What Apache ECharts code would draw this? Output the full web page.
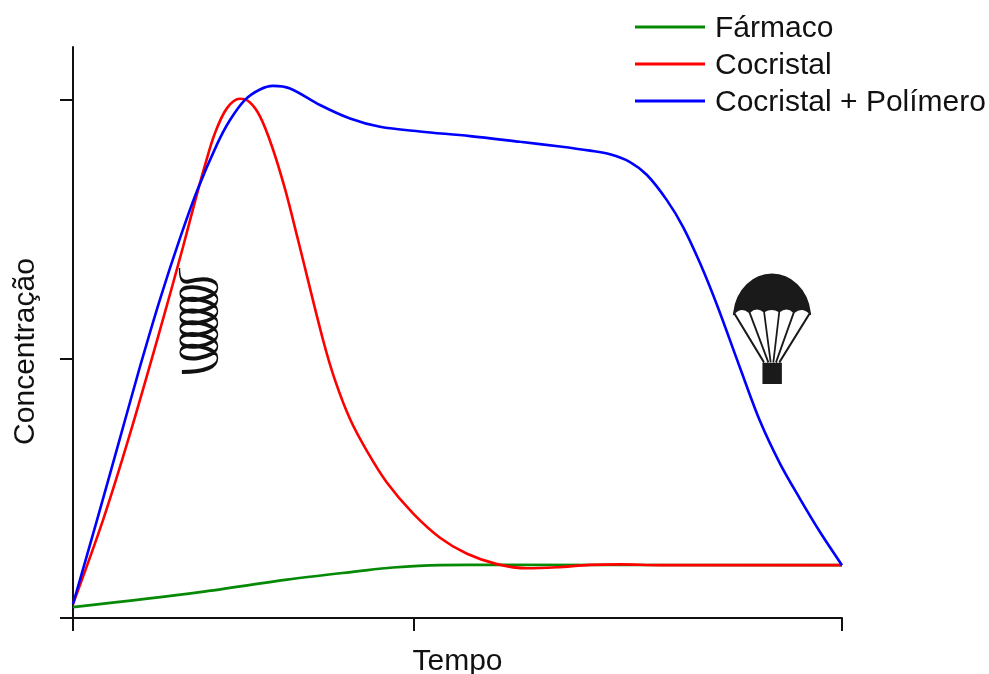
<!DOCTYPE html>
<html>
<head>
<meta charset="utf-8">
<style>html,body{margin:0;padding:0;background:#fff}#c{width:989px;height:674px}</style>
<script src="https://cdn.jsdelivr.net/npm/echarts@6/dist/echarts.min.js"></script>
</head>
<body>
<div id="c"></div>
<script>
const seriesNames = ['Fármaco', 'Cocristal', 'Cocristal + Polímero'];
const xTicks = [0, 341, 769];
const yTicks = [0, 50, 100];
// [tempo, concentração]
const farmaco = [[0,2.1],[127,5.0],[214,7.4],[284,9.0],[320,9.75],[367,10.2],[424,10.25],[769,10.2]];
const cocristal = [[0,2.7],[30,18.9],[56,34.9],[87,55.6],[110,71.6],[122,80.4],[132,87.4],[142,93.6],[154,98.4],[167,100.2],[177,99.5],[187,96.8],[199,91],[212,82.8],[225,73],[250,53.7],[262,45.9],[277,38.4],[294,32.2],[314,26.1],[340,20.2],[367,15.5],[394,12.4],[424,10.4],[454,9.6],[484,9.8],[517,10.25],[547,10.35],[587,10.2],[769,10.2]];
const polimero = [[0,2.7],[24,18.9],[47,34.7],[67,48.5],[87,61.5],[107,73.3],[124,82.4],[144,91.4],[157,96.1],[172,100],[187,102],[200,102.7],[217,102.2],[247,99],[277,96.4],[307,94.8],[347,93.9],[397,93],[447,91.9],[487,91],[517,90.2],[537,89.5],[557,88],[574,85.5],[594,80.6],[610,75.5],[627,68.5],[644,60.4],[667,48.3],[687,38],[707,29.8],[727,23],[747,16.6],[769,10.2]];
const molaPos = [[125.5, 57.5]];
const paraquedasPos = [[699, 55.8]];
const molaPath = 'path://M58 56C58 85 62 97 82 97C120 85 170 85 170 115C170 150 60 167 60 132C60 97 170 115 170 150C170 185 60 202 60 167C60 132 170 150 170 185C170 220 60 237 60 202C60 167 170 185 170 220C170 255 60 272 60 237C60 202 170 220 170 255C170 290 60 307 60 272C60 237 170 255 170 290C170 325 60 342 60 307C60 272 170 290 170 325C170 355 120 367 65 367';
const paraquedasPath = 'path://M42 158C50 90 100 45 156 45C212 45 262 90 270 158Q246 135 222 155Q200 135 178 153Q155 138 132 153Q110 135 88 155Q65 135 42 158ZM42 158L132 305M88 155L145 305M132 153L152 305M178 153L160 305M222 155L168 305M270 158L178 305M130 310H183V366H130Z';

const fontFamily = 'Liberation Sans';
const chart = echarts.init(document.getElementById('c'), null, {renderer: 'canvas'});
const line = (name, data, color) => ({
  name, data, type: 'line', smooth: 0.33, showSymbol: false, symbol: 'none', clip: false,
  lineStyle: {color, width: 2.6}, itemStyle: {color}, z: 3
});
chart.setOption({
  animation: false,
  backgroundColor: '#fff',
  grid: {left: 73, right: 147, top: 47, bottom: 56, containLabel: false, outerBoundsMode: 'none'},
  legend: {
    left: 635, top: 14, padding: 0, orient: 'vertical', data: seriesNames,
    itemWidth: 70, itemHeight: 25, itemGap: 7,
    formatter: '{t|{name}}',
    textStyle: {
      fontFamily, fontSize: 30, color: '#111', padding: [0,0,0,5],
      rich: {t: {fontFamily, fontSize: 30, color: '#111', padding: [4,0,0,0]}}
    },
    icon: 'path://M0 11H70V14H0Z',
    selectedMode: false
  },
  xAxis: {
    type: 'value', min: 0, max: 769,
    name: 'Tempo', nameLocation: 'middle', nameGap: 29,
    nameTextStyle: {fontFamily, fontSize: 30, color: '#111'},
    axisLine: {show: true, onZero: false, lineStyle: {color: '#111', width: 2}},
    axisTick: {show: true, length: 13, inside: false, customValues: xTicks, lineStyle: {color: '#111', width: 2}},
    axisLabel: {show: false},
    splitLine: {show: false}
  },
  yAxis: {
    type: 'value', min: 0, max: 110.2,
    name: 'Concentração', nameLocation: 'middle', nameGap: 32, nameRotate: 90,
    nameTextStyle: {fontFamily, fontSize: 30, color: '#111', padding: [0,38,0,0]},
    axisLine: {show: true, onZero: false, lineStyle: {color: '#111', width: 2}},
    axisTick: {show: true, length: 13, customValues: yTicks, lineStyle: {color: '#111', width: 2}},
    axisLabel: {show: false},
    splitLine: {show: false}
  },
  series: [
    line(seriesNames[0], farmaco, '#068a06'),
    line(seriesNames[1], cocristal, '#ff0000'),
    line(seriesNames[2], polimero, '#0000ff'),
    {type: 'scatter', name: 'mola', data: molaPos, symbol: molaPath, symbolSize: [38, 104], silent: true,
     itemStyle: {color: 'none', borderColor: '#111', borderWidth: 2.4, opacity: 1}, z: 4},
    {type: 'scatter', name: 'paraquedas', data: paraquedasPos, symbol: paraquedasPath, symbolSize: [76, 108], silent: true,
     itemStyle: {color: '#1a1a1a', borderColor: '#1a1a1a', borderWidth: 2.1, opacity: 1}, z: 4}
  ]
});
</script>
</body>
</html>
